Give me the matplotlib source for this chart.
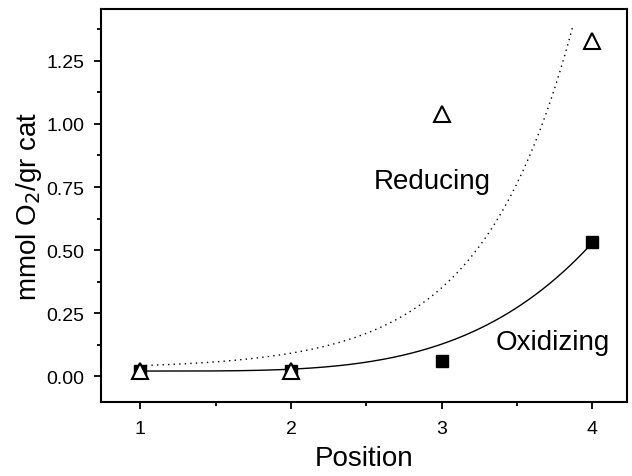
import numpy as np
import matplotlib
matplotlib.use("Agg")
import matplotlib.pyplot as plt

plt.rcParams['font.family'] = ['Liberation Sans', 'DejaVu Sans']

position = [1, 2, 3, 4]
reducing = [0.02, 0.02, 1.04, 1.33]
oxidizing = [0.02, 0.02, 0.06, 0.53]

# fitted curves (parameters)
red_fit = dict(y0=0.03, a=0.0022, k=1.66, xmax=3.87)
ox_fit = dict(y0=0.02, b=0.0074, n=3.85)

fig = plt.figure(figsize=(6.32, 4.77), dpi=100)
ax = fig.add_axes([0.160, 0.155, 0.832, 0.824])

xr = np.linspace(1, red_fit['xmax'], 200)
ax.plot(xr, red_fit['y0'] + red_fit['a'] * np.exp(red_fit['k'] * xr), 'k', ls=(0, (1, 3)), lw=1)
xo = np.linspace(1, 4, 200)
ax.plot(xo, ox_fit['y0'] + ox_fit['b'] * (xo - 1) ** ox_fit['n'], 'k', lw=1)

ax.plot(position, oxidizing, 's', color='k', ms=8.5, ls='none')
ax.plot(position, reducing, '^', mfc='white', mec='k', mew=1.5, ms=11, ls='none')

ax.text(2.94, 0.774, 'Reducing', fontsize=20, ha='center', va='center')
ax.text(3.735, 0.135, 'Oxidizing', fontsize=20, ha='center', va='center')

ax.set_xlim(0.74, 4.23)
ax.set_ylim(-0.103, 1.456)
ax.set_xticks([1, 2, 3, 4])
ax.set_xticks([1.5, 2.5, 3.5], minor=True)
ax.set_yticks([0, 0.25, 0.5, 0.75, 1.0, 1.25])
ax.set_yticks(np.arange(0.125, 1.45, 0.25), minor=True)
ax.set_yticklabels(['0.00', '0.25', '0.50', '0.75', '1.00', '1.25'])
ax.tick_params(which='major', length=5, width=1.3, labelsize=14)
ax.tick_params(axis='x', which='major', pad=8)
ax.tick_params(axis='y', which='major', pad=7)
ax.tick_params(which='minor', length=3, width=1.3)
for s in ax.spines.values():
    s.set_linewidth(1.5)

ax.set_xlabel('Position', fontsize=20, labelpad=6)
ax.set_ylabel('mmol O$_2$/gr cat', fontsize=20, labelpad=2)

fig.savefig('out.png', dpi=100)
